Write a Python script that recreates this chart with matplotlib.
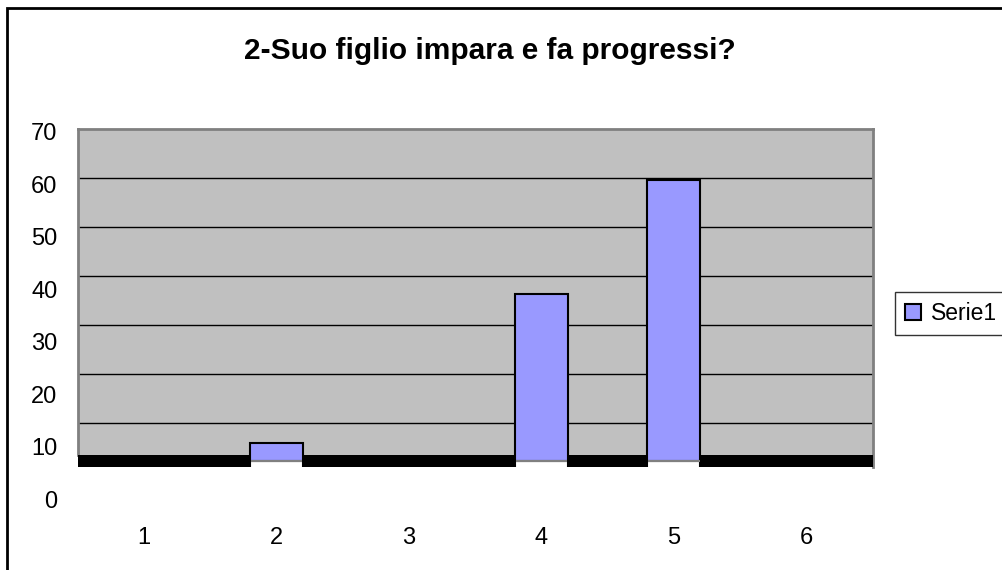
import matplotlib.pyplot as plt
from matplotlib.patches import Rectangle

# data
categories = [1, 2, 3, 4, 5, 6]
values = [0, 10.7, 0, 39.0, 60.8, 0]
y_ticks = [0, 10, 20, 30, 40, 50, 60, 70]
grid_vals = [10, 20, 30, 40, 50, 60]
title = "2-Suo figlio impara e fa progressi?"
series_name = "Serie1"

# look of the excel-style 3d wall/floor
wall_offset = 5.17
wall_scale = 0.933
floor_top = 8.39
floor_bot = 6.16
bar_bot = 7.24
bar_w = 0.4
blue = "#9999FF"
wall_grey = "#C0C0C0"

plt.rcParams['font.family'] = ['Liberation Sans', 'DejaVu Sans']

fig = plt.figure(figsize=(10.02, 5.70), dpi=100)
ax = fig.add_axes([77.7 / 1002, 1 - 499 / 570, 795 / 1002, 370 / 570])
ax.set_xlim(0.5, 6.5)
ax.set_ylim(0, 70 + 2.7 / 5.247)

# back wall
ax.axhspan(floor_top, wall_offset + wall_scale * 70, color=wall_grey, zorder=0, lw=0)
for g in grid_vals:
    ax.axhline(wall_offset + wall_scale * g, color="black", lw=1, zorder=1)
ax.plot([0.5, 0.5], [floor_top, 70.5], color="#808080", lw=2, zorder=2, clip_on=False)
ax.plot([6.5, 6.5], [floor_bot, 70.5], color="#808080", lw=2, zorder=2, clip_on=False)
ax.plot([0.5, 6.5], [70.5, 70.5], color="#808080", lw=2, zorder=2, clip_on=False)

# floor
ax.axhspan(floor_bot, floor_top, color="black", zorder=2, lw=0)

# bars
shown = [(c, v) for c, v in zip(categories, values) if v > 0]
xs = [c for c, v in shown]
vs = [v for c, v in shown]
ax.bar(xs, [bar_bot - floor_bot] * len(xs), bottom=floor_bot, width=bar_w,
       color="white", lw=0, zorder=3)
ax.vlines([x - bar_w / 2 for x in xs] + [x + bar_w / 2 for x in xs],
          floor_bot, bar_bot, color="black", lw=1.5, zorder=3)
ax.bar(xs, [v - bar_bot for v in vs], bottom=bar_bot, width=bar_w,
       color=blue, edgecolor="black", lw=1.5, zorder=4, label=series_name)
ax.hlines([bar_bot] * len(xs), [x - 0.195 for x in xs], [x + 0.195 for x in xs],
          color="#808080", lw=1.5, zorder=5)

ax.set_xticks(categories)
ax.set_xticklabels([str(c) for c in categories])
ax.set_yticks(y_ticks)
ax.tick_params(axis="both", length=0, labelsize=17)
ax.tick_params(axis="y", pad=14.5)
ax.tick_params(axis="x", pad=20)
for s in ax.spines.values():
    s.set_visible(False)

fig.text(489.5 / 1002, 1 - 59 / 570, title, fontsize=21.5, fontweight="bold",
         ha="center", va="baseline")

leg = fig.legend(loc="upper left", bbox_to_anchor=(895 / 1002, 1 - 291.7 / 570),
                 fontsize=16.5, frameon=True, fancybox=False, borderaxespad=0,
                 handlelength=0.7, handleheight=0.7, handletextpad=0.4,
                 borderpad=0.45)
leg.get_frame().set_edgecolor("black")
leg.get_frame().set_linewidth(1)

# outer chart border
fig.patches.append(Rectangle((7 / 1002, -0.1), 1.2, 1 - 8 / 570 + 0.1,
                             transform=fig.transFigure, fill=False,
                             edgecolor="black", lw=2))

fig.savefig("out.png", dpi=100)
